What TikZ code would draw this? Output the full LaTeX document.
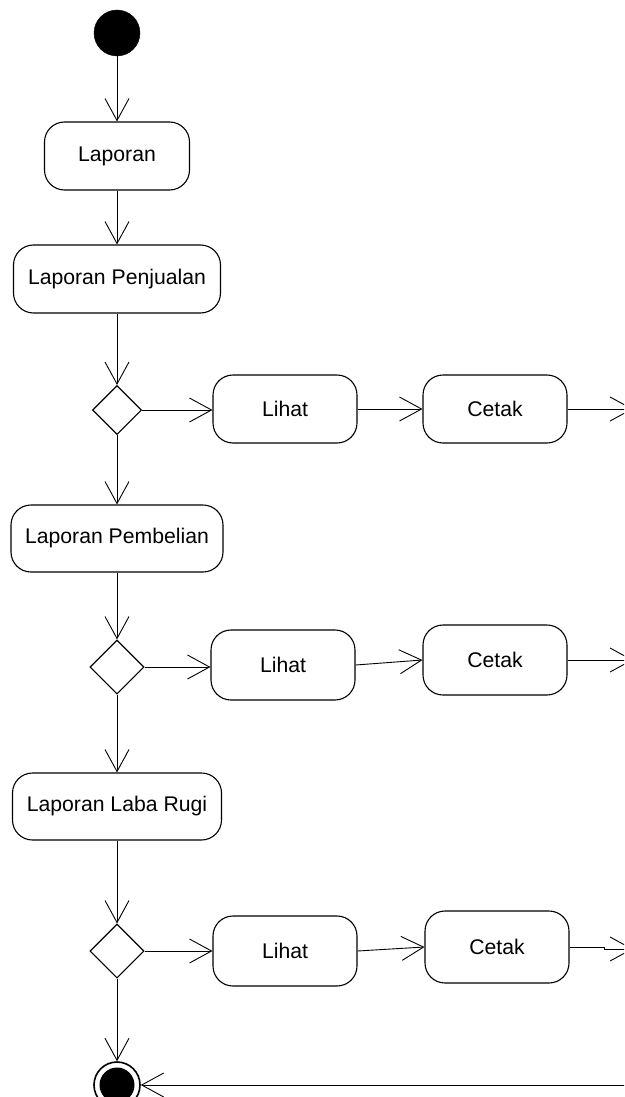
\documentclass[tikz,border=0pt]{standalone}
\usepackage{fontspec}
\setmainfont{Liberation Sans}
\usetikzlibrary{arrows.meta,shapes.geometric}
\begin{document}
\begin{tikzpicture}[x=1pt,y=1pt,
  act/.style={draw, line width=1.1pt, rounded corners=20pt, inner sep=0pt,
    font=\fontsize{21.2}{25}\selectfont},
  decision/.style={draw, diamond, aspect=1, line width=1.1pt, inner sep=0pt},
  flow/.style={line width=0.9pt, -{Straight Barb[length=22pt,width=24pt,line width=0.9pt]}}]
\useasboundingbox (0,0) rectangle (624,-1097);
\clip (0,0) rectangle (624,-1097);

% start and end states
\node (start) [circle, fill=black, draw, inner sep=0pt, minimum size=46pt] at (117,-33) {};
\node (stop) [circle, draw, line width=1.6pt, inner sep=0pt, minimum size=46pt] at (117,-1085) {};
\node (stopdot) [circle, fill=black, inner sep=0pt, minimum size=35pt] at (117,-1085) {};

% main column
\node (lap) [act, minimum width=145pt, minimum height=68pt] at (117,-156) {Laporan};
\node (pj)  [act, minimum width=207pt, minimum height=68pt] at (117,-279) {Laporan Penjualan};
\node (d1)  [decision, minimum width=49pt, minimum height=49pt] at (117,-410) {};
\node (pb)  [act, minimum width=212pt, minimum height=67pt] at (117,-538.5) {Laporan Pembelian};
\node (d2)  [decision, minimum width=54pt, minimum height=54pt] at (117,-667) {};
\node (lr)  [act, minimum width=209pt, minimum height=67pt] at (117,-806.5) {Laporan Laba Rugi};
\node (d3)  [decision, minimum width=54pt, minimum height=54pt] at (117,-951) {};

% branches
\node (l1) [act, minimum width=144pt, minimum height=68pt] at (285,-409) {Lihat};
\node (c1) [act, minimum width=144pt, minimum height=68pt] at (495,-409) {Cetak};
\node (l2) [act, minimum width=144pt, minimum height=70pt] at (283,-665) {Lihat};
\node (c2) [act, minimum width=144pt, minimum height=70pt] at (495,-660) {Cetak};
\node (l3) [act, minimum width=144pt, minimum height=70pt] at (285,-951) {Lihat};
\node (c3) [act, minimum width=144pt, minimum height=72pt] at (497,-947) {Cetak};

% off-page ends on the right
\coordinate (r1) at (633,-409);
\coordinate (r2) at (633,-660);
\coordinate (j3a) at (604,-947);
\coordinate (j3b) at (604,-949);
\coordinate (r3) at (633,-949);
\coordinate (back) at (630,-1085);

% vertical flow
\draw[flow] (start) -- (lap);
\draw[flow] (lap) -- (pj);
\draw[flow] (pj) -- (d1);
\draw[flow] (d1) -- (pb);
\draw[flow] (pb) -- (d2);
\draw[flow] (d2) -- (lr);
\draw[flow] (lr) -- (d3);
\draw[flow] (d3) -- (stop);

% horizontal flow
\draw[flow] (d1.east) -- (d1.east -| l1.west);
\draw[flow] (l1) -- (c1);
\draw[flow] (c1) -- (r1);
\draw[flow] (d2.east) -- (d2.east -| l2.west);
\draw[flow] (l2.east) -- (c2.west);
\draw[flow] (c2.east) -- (r2);
\draw[flow] (d3.east) -- (d3.east -| l3.west);
\draw[flow] (l3.east) -- (c3.west);
\draw[flow] (c3.east) -- (j3a) -- (j3b) -- (r3);
\draw[flow] (back) -- (stop);
\end{tikzpicture}
\end{document}
